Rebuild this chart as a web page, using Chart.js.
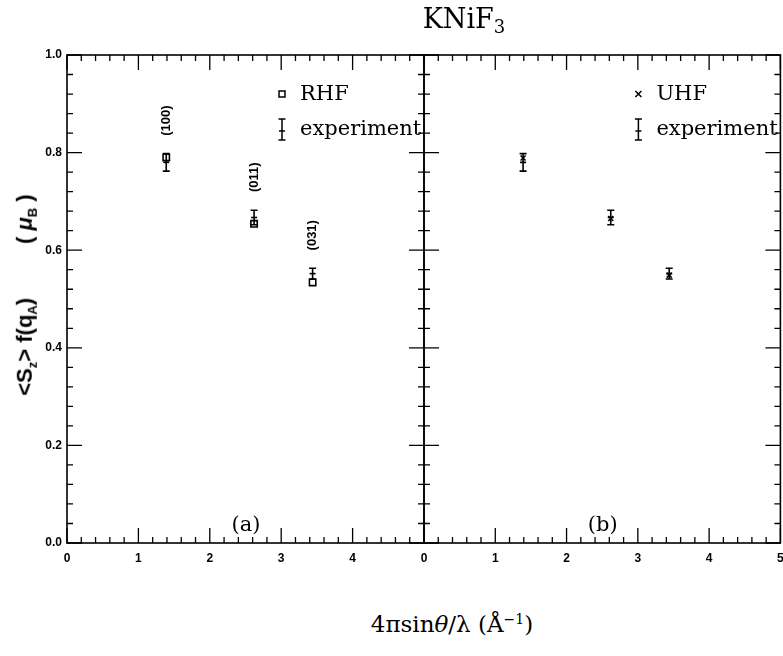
<!DOCTYPE html>
<html lang="en">
<head>
  <meta charset="UTF-8">
  <title>KNiF3</title>
  <script src="https://cdn.jsdelivr.net/npm/chart.js"></script>
  <style>
    body, html {
      margin: 0;
      padding: 0;
      background: #fff;
    }
    #wrap {
      position: relative;
      width: 783px;
      height: 656px;
      overflow: hidden;
      color: #000;
    }
    canvas { position: absolute; top: 0; }
    #leftChart { left: 0; }
    #rightChart { left: 404px; }
    .lbl {
      position: absolute;
      white-space: nowrap;
      transform: translate(-50%, -50%);
    }
    .serif { font-family: 'DejaVu Serif', serif; }
    #mainTitle { left: 464px; top: 20px; font-size: 27px; }
    #mainTitle sub { font-size: 18px; vertical-align: -5px; }
    #xTitle { left: 452px; top: 624px; font-size: 23px; }
    #xTitle sup { font-size: 14px; }
    #yTitle {
      left: 26px; top: 295px;
      transform: translate(-50%, -50%) rotate(-90deg);
      font-family: 'Liberation Sans', Arial, sans-serif;
      font-weight: bold;
      font-size: 22px;
    }
    #yTitle sub { font-size: 13px; }
  </style>
</head>
<body>
  <div id="wrap">
    <canvas id="leftChart" width="440" height="600"></canvas>
    <canvas id="rightChart" width="382" height="600"></canvas>
    <div id="mainTitle" class="lbl serif">KNiF<sub>3</sub></div>
    <div id="xTitle" class="lbl serif">4πsin<i>θ</i>/λ (Å<sup>−1</sup>)</div>
    <div id="yTitle" class="lbl">&lt;S<sub>z</sub>&gt; f(q<sub>A</sub>)<span style="display:inline-block;width:54px"></span>( <i>μ</i><sub>B</sub> )</div>
  </div>

  <script>
    // values
    const qValues = [1.39, 2.62, 3.44];
    const reflections = ["(100)", "(011)", "(031)"];
    const rhfValues = [0.790, 0.654, 0.534];
    const uhfValues = [0.789, 0.665, 0.549];
    const expValues = [0.780, 0.667, 0.552];
    const expErrors = [0.018, 0.015, 0.011];

    const xTicks = [0, 1, 2, 3, 4, 5];
    const yTicks = [0.0, 0.2, 0.4, 0.6, 0.8, 1.0];

    const SERIF = "'DejaVu Serif', serif";
    const SANS = "'Liberation Sans', Arial, sans-serif";

    function points(ys) {
      return qValues.map((q, i) => ({ x: q, y: ys[i] }));
    }

    function drawErrorSymbol(ctx, x, top, bottom, mid) {
      ctx.beginPath();
      ctx.moveTo(x, top); ctx.lineTo(x, bottom);
      ctx.moveTo(x - 3.5, top); ctx.lineTo(x + 3.5, top);
      ctx.moveTo(x - 3.5, bottom); ctx.lineTo(x + 3.5, bottom);
      ctx.moveTo(x - 3, mid); ctx.lineTo(x + 3, mid);
      ctx.stroke();
    }

    // frame, inward ticks, error bars, legend and labels
    const panelDecor = {
      id: "panelDecor",
      afterDatasetsDraw(chart, args, opts) {
        const ctx = chart.ctx;
        const a = chart.chartArea;
        const xs = chart.scales.x, ys = chart.scales.y;
        ctx.save();
        ctx.strokeStyle = "#000";
        ctx.fillStyle = "#000";

        // frame
        ctx.lineWidth = 1.6;
        ctx.strokeRect(a.left, a.top, a.right - a.left, a.bottom - a.top);

        // ticks on all four sides
        ctx.lineWidth = 1.3;
        ctx.beginPath();
        for (let i = 0; i <= 25; i++) {
          const px = xs.getPixelForValue(i * 0.2);
          const len = i % 5 === 0 ? 15 : 6;
          ctx.moveTo(px, a.bottom); ctx.lineTo(px, a.bottom - len);
          ctx.moveTo(px, a.top); ctx.lineTo(px, a.top + len);
        }
        for (let j = 0; j <= 25; j++) {
          const py = ys.getPixelForValue(j * 0.04);
          const len = j % 5 === 0 ? 15 : 6;
          ctx.moveTo(a.left, py); ctx.lineTo(a.left + len, py);
          ctx.moveTo(a.right, py); ctx.lineTo(a.right - len, py);
        }
        ctx.stroke();

        // experimental error bars
        ctx.lineWidth = 1.6;
        qValues.forEach((q, i) => {
          const px = xs.getPixelForValue(q);
          const top = ys.getPixelForValue(expValues[i] + expErrors[i]);
          const bot = ys.getPixelForValue(expValues[i] - expErrors[i]);
          ctx.beginPath();
          ctx.moveTo(px, top); ctx.lineTo(px, bot);
          ctx.moveTo(px - 3.5, top); ctx.lineTo(px + 3.5, top);
          ctx.moveTo(px - 3.5, bot); ctx.lineTo(px + 3.5, bot);
          ctx.stroke();

          if (opts.showReflections) {
            ctx.save();
            ctx.translate(px, top - 33);
            ctx.rotate(-Math.PI / 2);
            ctx.font = "bold 13px " + SANS;
            ctx.textAlign = "center";
            ctx.textBaseline = "middle";
            ctx.fillText(reflections[i], 0, 0);
            ctx.restore();
          }
        });

        // legend
        const lx = a.right - 142;
        const ly1 = a.top + 39, ly2 = a.top + 74;
        ctx.lineWidth = 1.5;
        if (opts.marker === "rect") {
          ctx.strokeRect(lx - 3, ly1 - 3, 6, 6);
        } else {
          ctx.beginPath();
          ctx.moveTo(lx - 3, ly1 - 3); ctx.lineTo(lx + 3, ly1 + 3);
          ctx.moveTo(lx + 3, ly1 - 3); ctx.lineTo(lx - 3, ly1 + 3);
          ctx.stroke();
        }
        drawErrorSymbol(ctx, lx, ly2 - 10, ly2 + 11, ly2 + 2);
        ctx.font = "21px " + SERIF;
        ctx.textAlign = "left";
        ctx.textBaseline = "middle";
        ctx.fillText(opts.label, lx + 18, ly1 + 1);
        ctx.fillText("experiment", lx + 18, ly2 + 1);

        // panel letter
        ctx.font = "21px " + SERIF;
        ctx.textAlign = "center";
        ctx.fillText(opts.letter, (a.left + a.right) / 2 + 0.5, a.bottom - 17);
        ctx.restore();
      }
    };

    function makeChart(id, theoryLabel, theoryValues, pointStyle, radius, decor, showY, padding, hideLastX) {
      const ctx = document.getElementById(id).getContext("2d");
      return new Chart(ctx, {
        type: "scatter",
        data: {
          datasets: [
            {
              label: theoryLabel,
              data: points(theoryValues),
              pointStyle: pointStyle,
              radius: radius,
              borderColor: "#000",
              backgroundColor: "rgba(0,0,0,0)",
              borderWidth: 1.6
            },
            {
              label: "experiment",
              data: points(expValues),
              pointStyle: "line",
              radius: 3,
              borderColor: "#000",
              borderWidth: 1.6
            }
          ]
        },
        options: {
          responsive: false,
          animation: false,
          layout: { padding: padding },
          plugins: {
            legend: { display: false },
            tooltip: { enabled: false },
            panelDecor: decor
          },
          scales: {
            x: {
              type: "linear",
              min: 0,
              max: 5,
              afterBuildTicks: s => { s.ticks = xTicks.map(v => ({ value: v })); },
              afterFit: s => { s.height = 57; s.paddingLeft = 0; s.paddingRight = 0; },
              grid: { display: false, drawTicks: false },
              border: { display: false },
              ticks: {
                padding: 8,
                maxRotation: 0,
                color: "#000",
                font: { family: SANS, weight: "bold", size: 12 },
                callback: v => (hideLastX && v === 5) ? "" : String(v)
              }
            },
            y: {
              type: "linear",
              display: showY,
              min: 0,
              max: 1,
              afterBuildTicks: s => { s.ticks = yTicks.map(v => ({ value: v })); },
              afterFit: s => { s.width = showY ? 67 : 0; s.paddingTop = 0; s.paddingBottom = 0; },
              grid: { display: false, drawTicks: false },
              border: { display: false },
              ticks: {
                padding: 5,
                color: "#000",
                font: { family: SANS, weight: "bold", size: 12 },
                callback: v => v.toFixed(1)
              }
            }
          }
        },
        plugins: [panelDecor]
      });
    }

    makeChart("leftChart", "RHF", rhfValues, "rect", 4.5,
      { label: "RHF", marker: "rect", letter: "(a)", showReflections: true },
      true, { top: 55, right: 16, bottom: 0, left: 0 }, true);

    makeChart("rightChart", "UHF", uhfValues, "crossRot", 3.5,
      { label: "UHF", marker: "cross", letter: "(b)", showReflections: false },
      false, { top: 55, right: 0, bottom: 0, left: 20 }, false);
  </script>
</body>
</html>
